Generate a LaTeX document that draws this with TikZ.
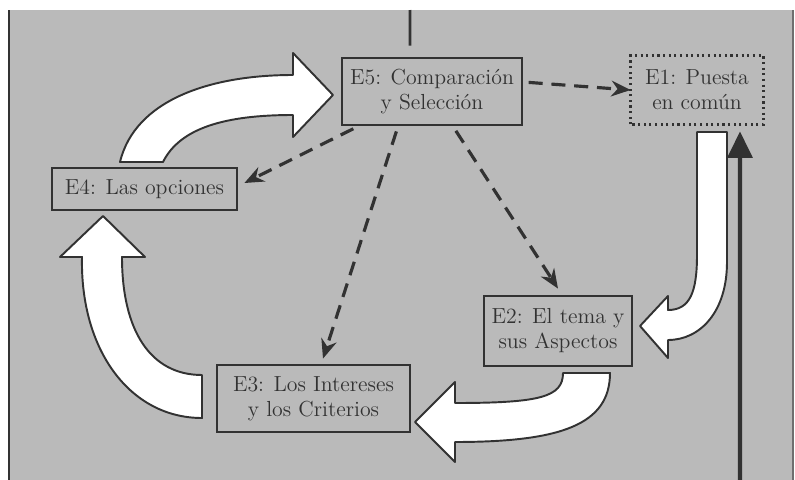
\documentclass[tikz,border=0pt]{standalone}
\usepackage{tikz}
\usetikzlibrary{positioning,arrows.meta}
\definecolor{bggray}{RGB}{186,186,186}
\definecolor{ink}{RGB}{50,50,50}

\begin{document}
\begin{tikzpicture}[x=0.02cm, y=-0.02cm,
   every node/.style={font=\fontsize{12.4}{14.2}\selectfont, text=ink, align=center},
   stage/.style={draw=ink, line width=1.6pt, fill=bggray, inner sep=0pt},
   dasharrow/.style={draw=ink, line width=1.8pt, dash pattern=on 8pt off 5pt,
      -{Stealth[length=11pt,width=9pt]}, shorten <=3pt},
   blockarrow/.style={draw=ink, line width=1.1pt, fill=white, line join=round}]
   \useasboundingbox (0,0) rectangle (795,480);
   \fill[bggray] (8,10) rectangle (792,480);
   \draw[ink, line width=1pt] (9,10) -- (9,480);
   \draw[ink!70, line width=0.6pt] (793,10) -- (793,480);

   % big arrows of the cycle
   \draw[blockarrow] (120,162) .. controls (135,100) and (210,75) .. (293,75)
      -- (293,53) -- (333,95) -- (293,137) -- (293,115)
      .. controls (225,115) and (180,128) .. (163,162) -- cycle;
   \draw[blockarrow] (82,257) .. controls (80,350) and (130,418) .. (202,418)
      -- (202,375) .. controls (150,375) and (122,330) .. (122,257)
      -- (145,257) -- (103,216) -- (60,257) -- cycle;
   \draw[blockarrow] (697,132) -- (727,132) -- (727,262)
      .. controls (727,312) and (700,340) .. (668,340)
      -- (668,358) -- (640,326) -- (668,296) -- (668,310)
      .. controls (690,310) and (697,292) .. (697,255) -- cycle;
   \draw[blockarrow] (563,373) -- (610,373)
      .. controls (610,425) and (560,442) .. (455,442)
      -- (455,462) -- (415,422) -- (455,382) -- (455,403)
      .. controls (540,403) and (563,397) .. (563,373) -- cycle;

   \node[stage, minimum width=3.6cm, minimum height=1.34cm] (5) at (432,91.5) {E5: Comparación\\y Selección};
   \node[stage, draw=none, minimum width=2.6cm, minimum height=1.32cm] (1) at (697,90) {E1: Puesta\\en común};
   \draw[ink, line width=1.8pt, dash pattern=on 1.2pt off 2pt] (1.south west) rectangle (1.north east);
   \node[stage, minimum width=3.7cm, minimum height=0.84cm] (4) at (144.5,189) {E4: Las opciones};
   \node[stage, minimum width=3.86cm, minimum height=1.34cm] (3) at (313.5,398.5) {E3: Los Intereses\\y los Criterios};
   \node[stage, minimum width=2.96cm, minimum height=1.4cm] (2) at (558,331) {E2: El tema y\\sus Aspectos};

   \coordinate (top) at (410,10);
   \coordinate (foot) at (740,480);
   \draw[ink, line width=1.6pt] (top) -- ([xshift=-0.44cm,yshift=0.22cm]5.north);
   \draw[ink, line width=2.3pt, -{Triangle[length=15pt,width=14pt]}] (foot) -- ([xshift=0.86cm,yshift=-0.14cm]1.south);

   \draw[dasharrow] ([yshift=0.19cm]5.east) -- (1.west);
   \draw[dasharrow] ([xshift=-1.48cm]5.south) -- ([xshift=0.12cm,yshift=0.12cm]4.east);
   \draw[dasharrow] ([xshift=-0.68cm]5.south) -- ([xshift=0.19cm,yshift=0.1cm]3.north);
   \draw[dasharrow] ([xshift=0.42cm]5.south) -- ([yshift=0.12cm]2.north);
\end{tikzpicture}
\end{document}
